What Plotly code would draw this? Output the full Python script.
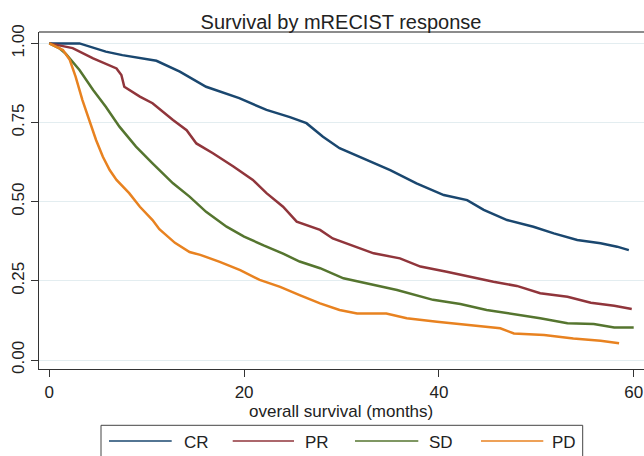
import plotly.graph_objects as go

# ---- data ----
groups = ["CR", "PR", "SD", "PD"]

cr_time = [0, 3.1, 5.8, 7.5, 11.0, 13.4, 16.1, 19.5, 22.3, 24.7, 26.4, 28.1, 29.8, 32.6, 35.0,
           37.7, 40.5, 42.9, 44.6, 47.0, 49.7, 51.8, 54.2, 56.6, 58.3, 59.5]
cr_surv = [1.0, 1.0, 0.974, 0.963, 0.945, 0.911, 0.863, 0.827, 0.790, 0.767, 0.748, 0.705, 0.669,
           0.632, 0.600, 0.558, 0.521, 0.505, 0.474, 0.442, 0.421, 0.400, 0.379, 0.369, 0.358, 0.347]

pr_time = [0, 2.4, 4.5, 6.9, 7.4, 7.7, 9.3, 10.6, 12.7, 14.1, 15.1, 16.8, 18.9, 20.9, 22.3, 24.0,
           25.4, 26.4, 27.8, 29.1, 30.9, 33.3, 36.0, 38.1, 40.8, 42.9, 45.6, 48.0, 50.4, 53.2,
           55.6, 58.0, 59.8]
pr_surv = [1.0, 0.985, 0.953, 0.921, 0.900, 0.863, 0.832, 0.811, 0.758, 0.726, 0.684, 0.653, 0.611,
           0.569, 0.527, 0.484, 0.437, 0.426, 0.411, 0.384, 0.363, 0.337, 0.321, 0.295, 0.279,
           0.265, 0.247, 0.234, 0.211, 0.200, 0.181, 0.171, 0.161]

sd_time = [0, 1.0, 1.7, 3.1, 4.5, 5.8, 7.2, 8.9, 10.6, 12.7, 14.4, 16.1, 18.2, 20.0, 22.0, 24.0,
           25.7, 27.8, 30.2, 32.6, 35.7, 39.4, 42.2, 44.9, 47.7, 50.4, 53.2, 55.9, 58.0, 60.0]
sd_surv = [1.0, 0.985, 0.967, 0.916, 0.853, 0.800, 0.737, 0.674, 0.621, 0.558, 0.516, 0.468, 0.421,
           0.390, 0.362, 0.336, 0.311, 0.290, 0.258, 0.242, 0.221, 0.190, 0.177, 0.158, 0.145,
           0.132, 0.116, 0.114, 0.103, 0.103]

pd_time = [0, 1.4, 2.1, 2.7, 3.4, 4.1, 4.8, 5.5, 6.2, 6.9, 8.2, 9.3, 10.6, 11.3, 12.9, 14.4, 15.5,
           17.5, 19.6, 21.6, 23.7, 25.7, 27.8, 29.8, 31.6, 34.6, 36.7, 39.8, 42.9, 46.3, 47.7,
           50.8, 53.8, 56.6, 58.5]
pd_surv = [1.0, 0.979, 0.948, 0.895, 0.821, 0.758, 0.695, 0.642, 0.600, 0.569, 0.527, 0.484, 0.442,
           0.413, 0.370, 0.341, 0.332, 0.310, 0.284, 0.253, 0.231, 0.205, 0.179, 0.158, 0.147,
           0.147, 0.132, 0.121, 0.111, 0.100, 0.084, 0.079, 0.068, 0.061, 0.053]

x_ticks = [0, 20, 40, 60]
y_ticks = [0, 0.25, 0.5, 0.75, 1.0]
y_tick_labels = ["0.00", "0.25", "0.50", "0.75", "1.00"]

title_text = "Survival by mRECIST response"
x_title = "overall survival (months)"

# ---- styling ----
colors = ["#1a476f", "#90353b", "#55752f", "#e88220"]
FONT = "Liberation Sans, Arial, sans-serif"
W, H = 644, 456
ML, MR, MT, MB = 39, 0, 32, 87
PW, PH = W - ML - MR, H - MT - MB


def px2x(px):
    return (px - ML) / PW


def px2y(py):
    return (H - MB - py) / PH


series = [(cr_time, cr_surv), (pr_time, pr_surv), (sd_time, sd_surv), (pd_time, pd_surv)]

fig = go.Figure()
for name, (t, s), c in zip(groups, series, colors):
    fig.add_trace(go.Scatter(x=t, y=s, mode="lines", name=name,
                             line=dict(color=c, width=2.5), showlegend=False))

shapes = []
annotations = []

# top frame line
shapes.append(dict(type="line", xref="paper", yref="paper", x0=0, x1=1, y0=1, y1=1,
                   line=dict(color="#666666", width=1.6)))

# legend box
shapes.append(dict(type="rect", xref="paper", yref="paper",
                   x0=px2x(101), x1=px2x(582.7), y0=px2y(425.3), y1=px2y(472),
                   line=dict(color="#444444", width=1), fillcolor="rgba(0,0,0,0)"))
leg_lines = [(109, 171.7, 181.7), (232.7, 294, 303.3), (355, 418.3, 427.3), (481, 543.3, 550)]
for name, c, (a, b, tx) in zip(groups, colors, leg_lines):
    shapes.append(dict(type="line", xref="paper", yref="paper",
                       x0=px2x(a), x1=px2x(b), y0=px2y(441), y1=px2y(441),
                       line=dict(color=c, width=1.3)))
    annotations.append(dict(text=name, xref="paper", yref="paper", x=px2x(tx), y=px2y(442.5),
                            xanchor="left", yanchor="middle", showarrow=False,
                            font=dict(family=FONT, size=17, color="#222222")))

# x-axis title
annotations.append(dict(text=x_title, xref="paper", yref="paper", x=px2x(341), y=px2y(411),
                        xanchor="center", yanchor="middle", showarrow=False,
                        font=dict(family=FONT, size=17, color="#222222")))

fig.update_layout(
    width=W, height=H,
    margin=dict(l=ML, r=MR, t=MT, b=MB, pad=0),
    paper_bgcolor="white", plot_bgcolor="white",
    font=dict(family=FONT, size=17, color="#222222"),
    title=dict(text=title_text, x=px2x(341), xref="paper", xanchor="center",
               y=(H - 28.5) / H, yref="container", yanchor="bottom",
               font=dict(family=FONT, size=20, color="#222222")),
    shapes=shapes, annotations=annotations,
    xaxis=dict(range=[(ML - 49.3) / 9.74, (W - 49.3) / 9.74], tickvals=x_ticks,
               ticks="outside", ticklen=7, tickwidth=1.2, tickcolor="#333333",
               showline=True, linecolor="#333333", linewidth=1.4,
               showgrid=False, zeroline=False,
               tickfont=dict(family=FONT, size=17, color="#222222")),
    yaxis=dict(range=[(360 - (H - MB)) / 316.6, (360 - MT) / 316.6], tickvals=y_ticks,
               ticktext=y_tick_labels, tickangle=-90,
               ticks="outside", ticklen=7, tickwidth=1.2, tickcolor="#333333",
               showline=True, linecolor="#333333", linewidth=1.4,
               showgrid=True, gridcolor="#e3edf0", gridwidth=1.2, zeroline=False,
               tickfont=dict(family=FONT, size=17, color="#222222")),
)

fig.write_html("out.html", config={"displayModeBar": False},
               post_script="document.body.style.margin='0';document.body.style.overflow='hidden';")
